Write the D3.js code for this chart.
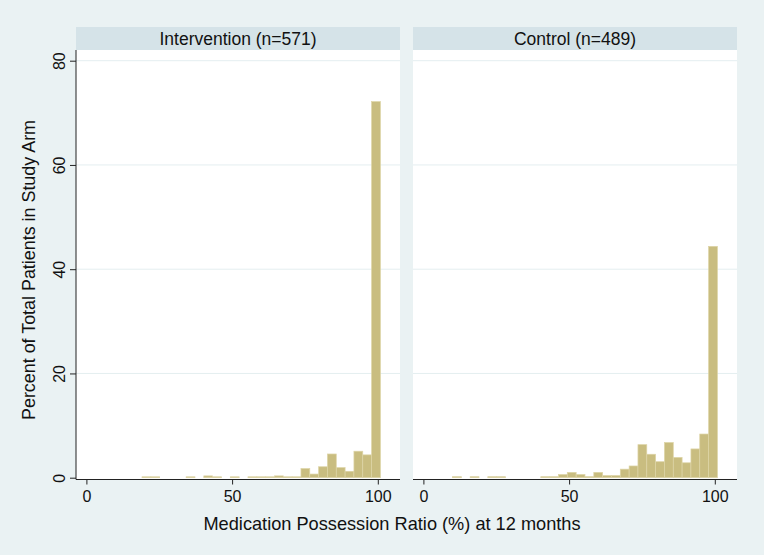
<!DOCTYPE html>
<html>
<head>
<meta charset="utf-8">
<script src="https://cdn.jsdelivr.net/npm/d3@7"></script>
<style>
  html, body { margin: 0; padding: 0; background: #eaf2f3; }
  svg { display: block; }
  text { font-family: "Liberation Sans", Arial, Helvetica, sans-serif; fill: #111; }
</style>
</head>
<body>
<svg id="chart" width="764" height="555"></svg>
<script>
// ---- data ----
const panelTitles = ["Intervention (n=571)", "Control (n=489)"];
const binEdges = [0.90, 3.93, 6.96, 9.99, 13.02, 16.05, 19.08, 22.11, 25.14, 28.17,
                  31.20, 34.23, 37.26, 40.29, 43.32, 46.35, 49.38, 52.42, 55.45, 58.48,
                  61.51, 64.54, 67.57, 70.60, 73.63, 76.66, 79.69, 82.72, 85.75, 88.78,
                  91.81, 94.84, 97.87, 100.90];
const interventionPct = [0, 0, 0, 0, 0, 0, 0.175, 0.175, 0, 0,
                         0, 0.175, 0, 0.35, 0.175, 0, 0.175, 0, 0.175, 0.175,
                         0.175, 0.35, 0.175, 0.175, 1.75, 0.70, 2.10, 4.55, 1.93, 1.23,
                         5.08, 4.38, 72.15];
const controlPct = [0, 0, 0, 0.20, 0, 0.20, 0, 0.20, 0.20, 0,
                    0, 0, 0, 0.20, 0.20, 0.61, 1.02, 0.61, 0.20, 1.02,
                    0.41, 0.41, 1.64, 2.25, 6.34, 4.50, 3.07, 6.75, 3.89, 2.86,
                    5.52, 8.38, 44.38];
const xTicks = [0, 50, 100];
const yTicks = [0, 20, 40, 60, 80];
const xTitle = "Medication Possession Ratio (%) at 12 months";
const yTitle = "Percent of Total Patients in Study Arm";

// ---- layout ----
const svg = d3.select("#chart");
svg.append("rect").attr("width", 764).attr("height", 555).attr("fill", "#eaf2f3");

const panelX = [76, 413];
const panelW = 324;
const plotTop = 50, plotBottom = 479.5;
const headerTop = 27;

const y = d3.scaleLinear().domain([0, 80]).range([477.7, 60.7]);

const series = [interventionPct, controlPct];

series.forEach((vals, p) => {
  const x0 = panelX[p];
  const x = d3.scaleLinear().domain([0, 100]).range([x0 + 10.4, x0 + 301.8]);
  const g = svg.append("g");

  // header strip
  g.append("rect").attr("x", x0).attr("y", headerTop).attr("width", panelW)
    .attr("height", plotTop - headerTop).attr("fill", "#d5e3e8");
  g.append("text").attr("x", x0 + panelW / 2).attr("y", 45)
    .attr("text-anchor", "middle").style("font-size", "17.5px").text(panelTitles[p]);

  // plot region
  g.append("rect").attr("x", x0).attr("y", plotTop).attr("width", panelW)
    .attr("height", plotBottom - plotTop).attr("fill", "#ffffff");

  // gridlines
  g.selectAll("line.grid").data(yTicks.filter(d => d > 0)).join("line")
    .attr("class", "grid")
    .attr("x1", x0).attr("x2", x0 + panelW)
    .attr("y1", d => y(d)).attr("y2", d => y(d))
    .attr("stroke", "#e4eef0").attr("stroke-width", 1);

  // bars
  const bins = vals.map((v, i) => ({ lo: binEdges[i], hi: binEdges[i + 1], v }))
    .filter(d => d.v > 0);
  g.selectAll("rect.bar").data(bins).join("rect")
    .attr("class", "bar")
    .attr("x", d => x(d.lo))
    .attr("width", d => x(d.hi) - x(d.lo))
    .attr("y", d => y(d.v))
    .attr("height", d => y(0) - y(d.v))
    .attr("fill", "#c9bd80")
    .attr("stroke", "#ddd4a6").attr("stroke-width", 0.7);

  // x axis
  const xAxis = d3.axisBottom(x).tickValues(xTicks).tickSize(5).tickPadding(6);
  const ax = g.append("g").attr("transform", `translate(0,${plotBottom})`).call(xAxis);
  ax.select(".domain").remove();
  ax.append("line").attr("x1", x0).attr("x2", x0 + panelW).attr("y1", 0).attr("y2", 0)
    .attr("stroke", "#222").attr("stroke-width", 1);
  ax.selectAll(".tick line").attr("stroke", "#222");
  ax.selectAll(".tick text").style("font-size", "16px").attr("fill", "#111")
    .attr("font-family", null);

  if (p === 0) {
    const yAxis = d3.axisLeft(y).tickValues(yTicks).tickSize(6).tickPadding(4);
    const ay = g.append("g").attr("transform", `translate(${x0},0)`).call(yAxis);
    ay.select(".domain").remove();
    ay.append("line").attr("x1", 0).attr("x2", 0).attr("y1", plotTop).attr("y2", plotBottom)
      .attr("stroke", "#222").attr("stroke-width", 1);
    ay.selectAll(".tick line").attr("stroke", "#222");
    ay.selectAll(".tick text")
      .attr("x", null).attr("dy", null)
      .attr("text-anchor", "middle")
      .attr("transform", "translate(-11,0) rotate(-90)")
      .style("font-size", "16px").attr("fill", "#111");
  }
});

// axis titles
svg.append("text").attr("x", 392).attr("y", 530).attr("text-anchor", "middle")
  .style("font-size", "18.2px").text(xTitle);
svg.append("text").attr("transform", "translate(35,270) rotate(-90)")
  .attr("text-anchor", "middle").style("font-size", "17.9px").text(yTitle);
</script>
</body>
</html>
